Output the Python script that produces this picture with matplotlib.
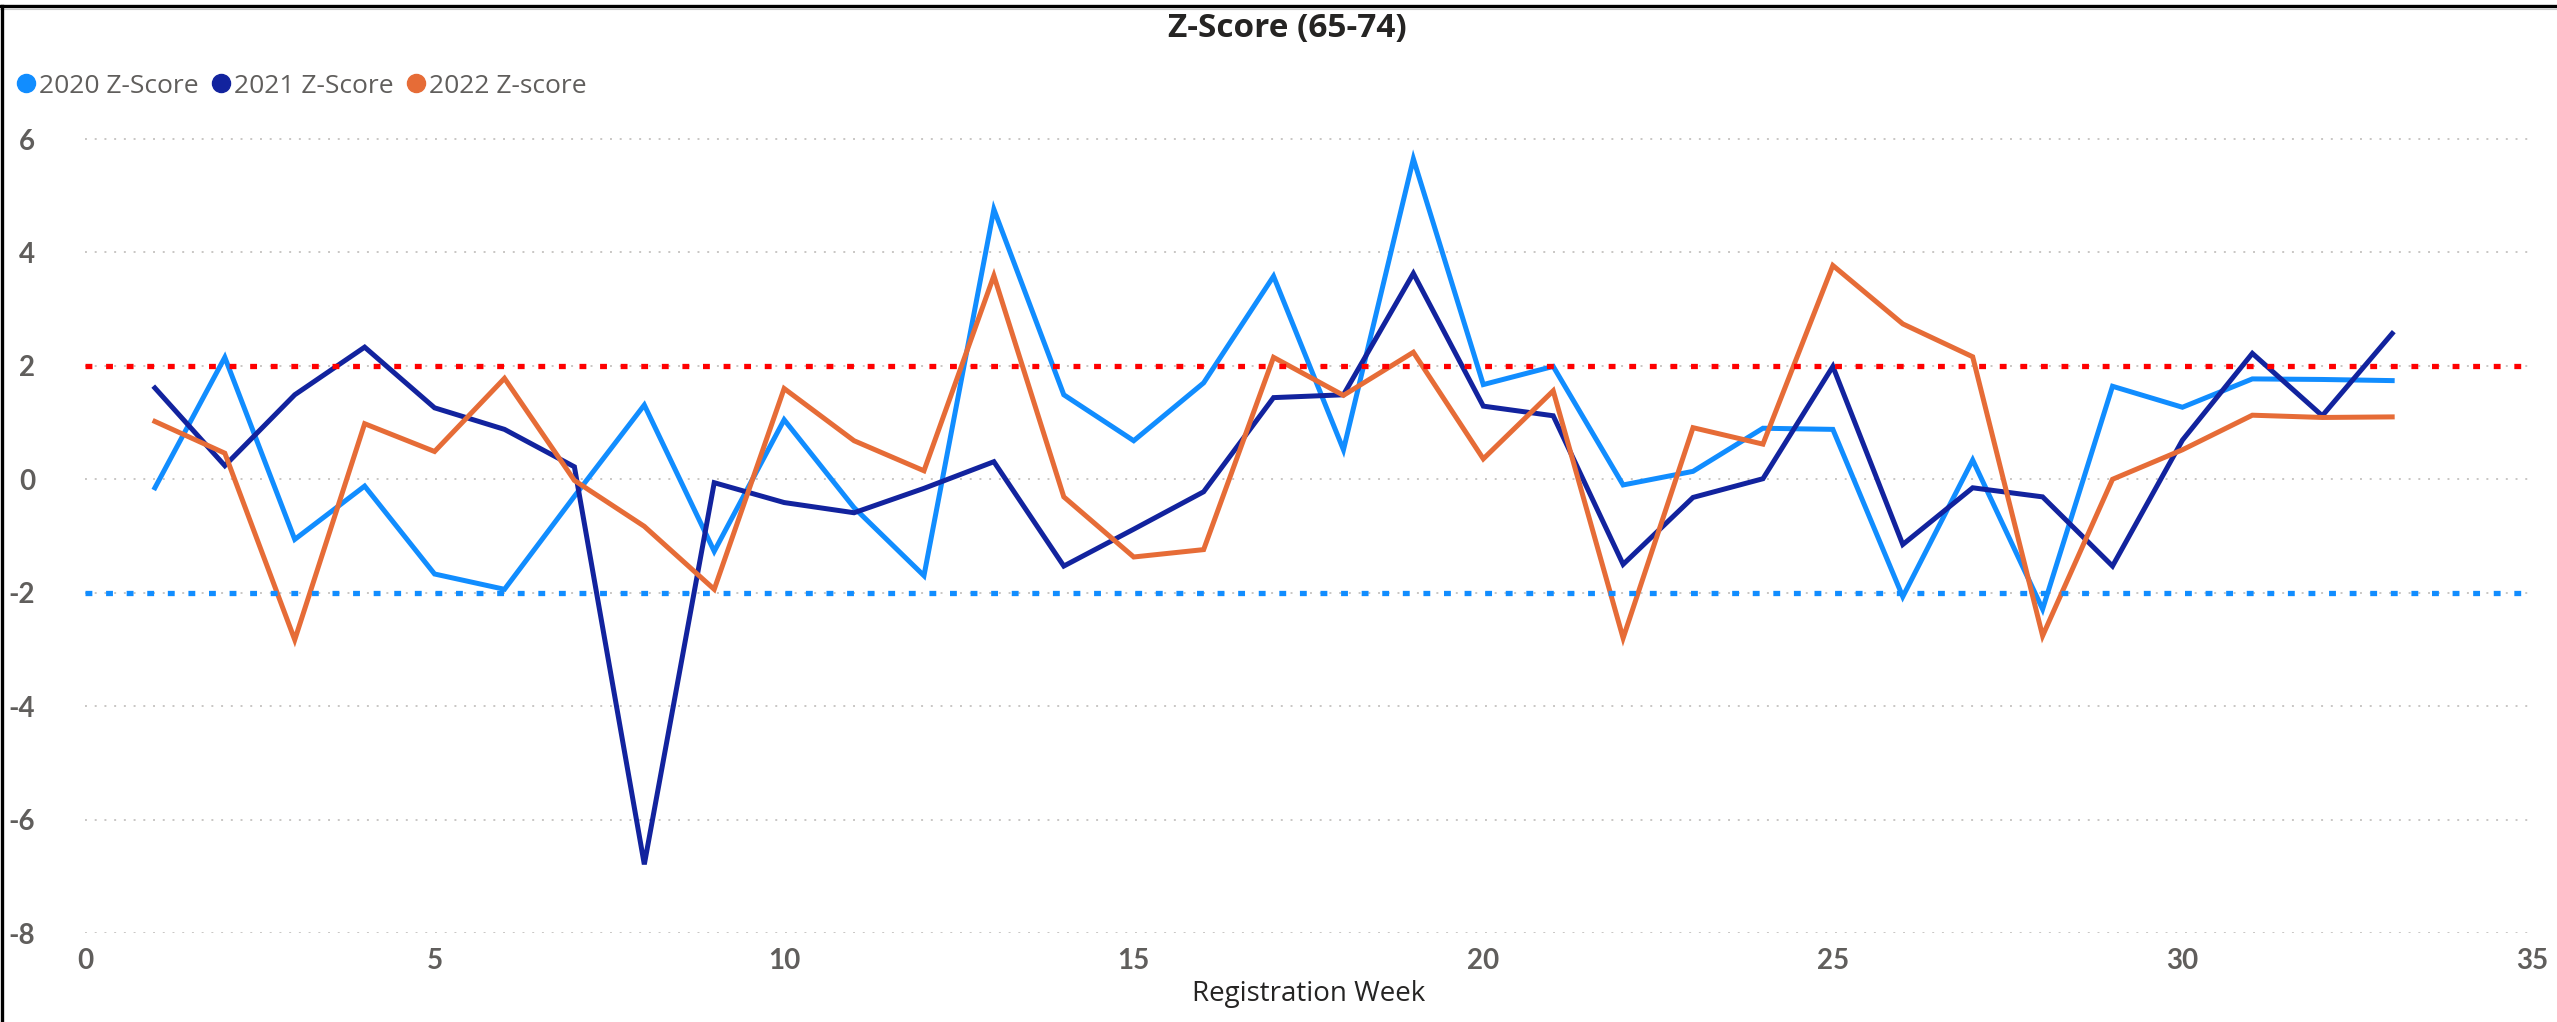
import numpy as np
import matplotlib.pyplot as plt
from matplotlib.lines import Line2D

# weekly z-scores
weeks = list(range(1, 34))
z_2020 = [-0.15, 2.15, -1.06, -0.12, -1.67, -1.94, -0.3, 1.31, -1.27, 1.05,
          -0.5, -1.70, 4.76, 1.49, 0.68, 1.70, 3.58, 0.52, 5.65, 1.67,
          1.99, -0.10, 0.14, 0.90, 0.88, -2.07, 0.34, -2.29, 1.64, 1.27,
          1.77, 1.76, 1.74]
z_2021 = [1.61, 0.24, 1.49, 2.33, 1.26, 0.88, 0.22, -6.79, -0.06, -0.41,
          -0.59, -0.16, 0.31, -1.53, -0.88, -0.22, 1.44, 1.49, 3.63, 1.29,
          1.12, -1.50, -0.32, 0.01, 1.99, -1.15, -0.15, -0.31, -1.53, 0.69,
          2.22, 1.12, 2.57]
z_2022 = [1.02, 0.46, -2.83, 0.98, 0.49, 1.78, -0.02, -0.83, -1.94, 1.60,
          0.68, 0.15, 3.59, -0.31, -1.37, -1.24, 2.15, 1.48, 2.24, 0.36,
          1.56, -2.80, 0.91, 0.62, 3.77, 2.74, 2.16, -2.76, 0.0, 0.52,
          1.13, 1.09, 1.10]
labels = ['2020 Z-Score', '2021 Z-Score', '2022 Z-score']
colors = ['#118DFF', '#12239E', '#E66C37']
upper_limit = 2
lower_limit = -2
yticks = [-8, -6, -4, -2, 0, 2, 4, 6]
xticks = [0, 5, 10, 15, 20, 25, 30, 35]

W, H = 2557, 1022
fig = plt.figure(figsize=(W / 100, H / 100), dpi=100)
plt.rcParams['font.family'] = ['Open Sans', 'DejaVu Sans']

# axes placed in pixel terms: x 85..2532, y=6 at 139, y=-8 at 933
ymin, ymax = -8, 6.5
px_unit = (933 - 139) / 14
top_px = 139 - (ymax - 6) * px_unit
ax = fig.add_axes([85 / W, 1 - 933 / H, (2532 - 85) / W, (933 - top_px) / H])
ax.set_xlim(0, 35)
ax.set_ylim(ymin, ymax)

for yv in yticks:
    ax.axhline(yv, color='#C8C6C4', linestyle=(0, (1, 4)), linewidth=1.4, zorder=0)

for data, lab, c in zip([z_2020, z_2021, z_2022], labels, colors):
    ax.plot(weeks, data, color=c, linewidth=3.6, label=lab, solid_joinstyle='miter', zorder=2)

ax.axhline(upper_limit, color='#FF0000', linestyle=(0, (1.3, 2.6)), linewidth=3.8, zorder=3)
ax.axhline(lower_limit, color='#118DFF', linestyle=(0, (1.3, 2.6)), linewidth=3.8, zorder=3)

for s in ax.spines.values():
    s.set_visible(False)
ax.set_yticks(yticks)
ax.set_xticks(xticks)
ax.set_yticklabels([str(v) for v in yticks], fontsize=20, fontweight='bold', color='#605E5C',
                   family=['Lato', 'DejaVu Sans'])
ax.set_xticklabels([str(v) for v in xticks], fontsize=20, fontweight='bold', color='#605E5C',
                   family=['Lato', 'DejaVu Sans'])
ax.tick_params(axis='y', length=0, pad=36)
ax.tick_params(axis='x', length=0, pad=11)
ax.set_xlabel('Registration Week', fontsize=20, color='#252423', labelpad=4)

fig.text(1287 / W, 1 - 28 / H, 'Z-Score (65-74)', ha='center', va='center',
         fontsize=24, fontweight='bold', color='#252423')

handles = [Line2D([], [], marker='o', linestyle='none', markersize=13,
                  markerfacecolor=c, markeredgecolor=c) for c in colors]
fig.legend(handles, labels, loc='center left', bbox_to_anchor=(2 / W, 1 - 86 / H),
           ncol=3, frameon=False, fontsize=19, labelcolor='#605E5C',
           handletextpad=0.0, columnspacing=0.35, handlelength=1.0, borderaxespad=0)

# report frame lines
fig.add_artist(Line2D([0, 1], [1 - 6.5 / H, 1 - 6.5 / H], color='black', linewidth=2.4))
fig.add_artist(Line2D([0, 1], [1 - 9.5 / H, 1 - 9.5 / H], color='#C8C8C8', linewidth=0.8))
fig.add_artist(Line2D([1.5 / W, 1.5 / W], [0, 1 - 6.5 / H], color='black', linewidth=2.4))

fig.savefig('out.png', dpi=100)
